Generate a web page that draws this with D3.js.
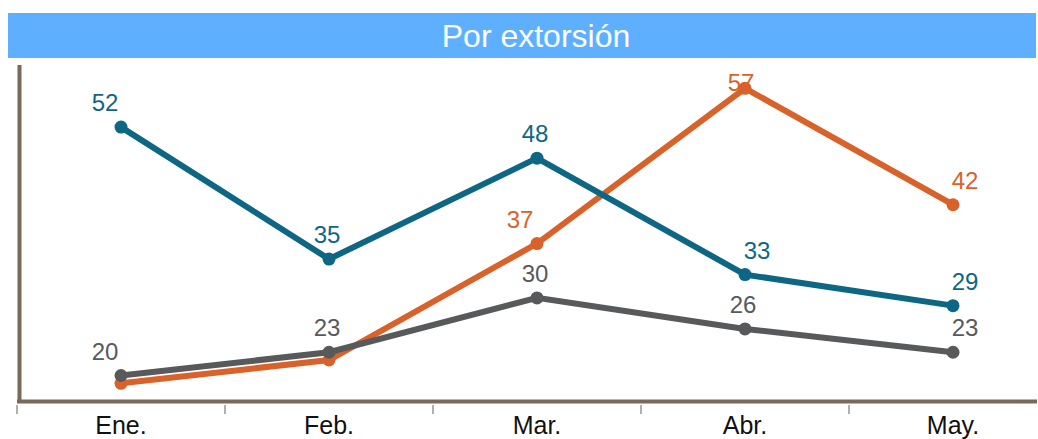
<!DOCTYPE html>
<html>
<head>
<meta charset="utf-8">
<script src="https://cdn.jsdelivr.net/npm/d3@7"></script>
<style>
  body { margin: 0; background: #fff; }
  svg { display: block; font-family: "Liberation Sans", Arial, sans-serif; }
</style>
</head>
<body>
<div id="output"></div>
<script>
const months = ['Ene.', 'Feb.', 'Mar.', 'Abr.', 'May.'];
const blueValues = [52, 35, 48, 33, 29];
const orangeValues = [19, 22, 37, 57, 42];
const greyValues = [20, 23, 30, 26, 23];
// which points get a value label (orange starts hidden under the grey one)
const orangeLabeled = [false, false, true, true, true];

const series = [
  { name: 'orange', color: '#d9622b', values: orangeValues, shown: orangeLabeled },
  { name: 'grey', color: '#58595b', values: greyValues, shown: [true, true, true, true, true] },
  { name: 'blue', color: '#0d6784', values: blueValues, shown: [true, true, true, true, true] }
];

const width = 1038, height = 439;
const svg = d3.select('#output').append('svg')
  .attr('width', width).attr('height', height);

// title bar
svg.append('rect')
  .attr('x', 8).attr('y', 13).attr('width', 1028).attr('height', 45)
  .attr('fill', '#5eb0ff');
svg.append('text')
  .attr('x', 536).attr('y', 47)
  .attr('text-anchor', 'middle')
  .attr('fill', '#fff')
  .style('font-size', '32px')
  .text('Por extorsión');

const x = d3.scaleBand().domain(months).range([17, 1057]);
const y = d3.scaleLinear().domain([16.46, 60]).range([403, 65]);

// ticks under axis
svg.append('g')
  .selectAll('line')
  .data(months)
  .join('line')
  .attr('x1', d => x(d)).attr('x2', d => x(d))
  .attr('y1', 405).attr('y2', 414)
  .attr('stroke', '#b0b0b0').attr('stroke-width', 2);

// axes lines
svg.append('line')
  .attr('x1', 17).attr('x2', 1037).attr('y1', 401.5).attr('y2', 401.5)
  .attr('stroke', '#7a6a58').attr('stroke-width', 4);
svg.append('line')
  .attr('x1', 19.5).attr('x2', 19.5).attr('y1', 65).attr('y2', 403)
  .attr('stroke', '#7a6a58').attr('stroke-width', 4);

// month labels
svg.append('g')
  .selectAll('text')
  .data(months)
  .join('text')
  .attr('x', d => x(d) + x.bandwidth() / 2)
  .attr('y', 434)
  .attr('text-anchor', 'middle')
  .attr('fill', '#111')
  .style('font-size', '25px')
  .text(d => d);

const line = d3.line()
  .x((d, i) => x(months[i]) + x.bandwidth() / 2)
  .y(d => y(d));

series.forEach(s => {
  const g = svg.append('g');
  g.append('path')
    .attr('d', line(s.values))
    .attr('fill', 'none')
    .attr('stroke', s.color)
    .attr('stroke-width', 6)
    .attr('stroke-linejoin', 'miter');
  g.selectAll('circle')
    .data(s.values)
    .join('circle')
    .attr('cx', (d, i) => x(months[i]) + x.bandwidth() / 2)
    .attr('cy', d => y(d))
    .attr('r', 6.5)
    .attr('fill', s.color);
});

// value labels (kept inside the plot top, so the highest one sits on its point)
const labelShift = (s, i) => {
  if (i === 0) return -16;
  if (i === 4) return 12;
  if (s.name === 'orange' && i === 2) return -17;
  if (s.name === 'orange' && i === 3) return -4;
  if (s.name === 'blue' && i === 3) return 12;
  return -2;
};
series.forEach(s => {
  svg.append('g')
    .selectAll('text')
    .data(s.values.map((v, i) => ({ v, i })).filter(d => s.shown[d.i]))
    .join('text')
    .attr('x', d => x(months[d.i]) + x.bandwidth() / 2 + labelShift(s, d.i))
    .attr('y', d => Math.max(y(d.v) - 16, 91))
    .attr('text-anchor', 'middle')
    .attr('fill', s.color)
    .style('font-size', '24px')
    .text(d => d.v);
});
</script>
</body>
</html>
